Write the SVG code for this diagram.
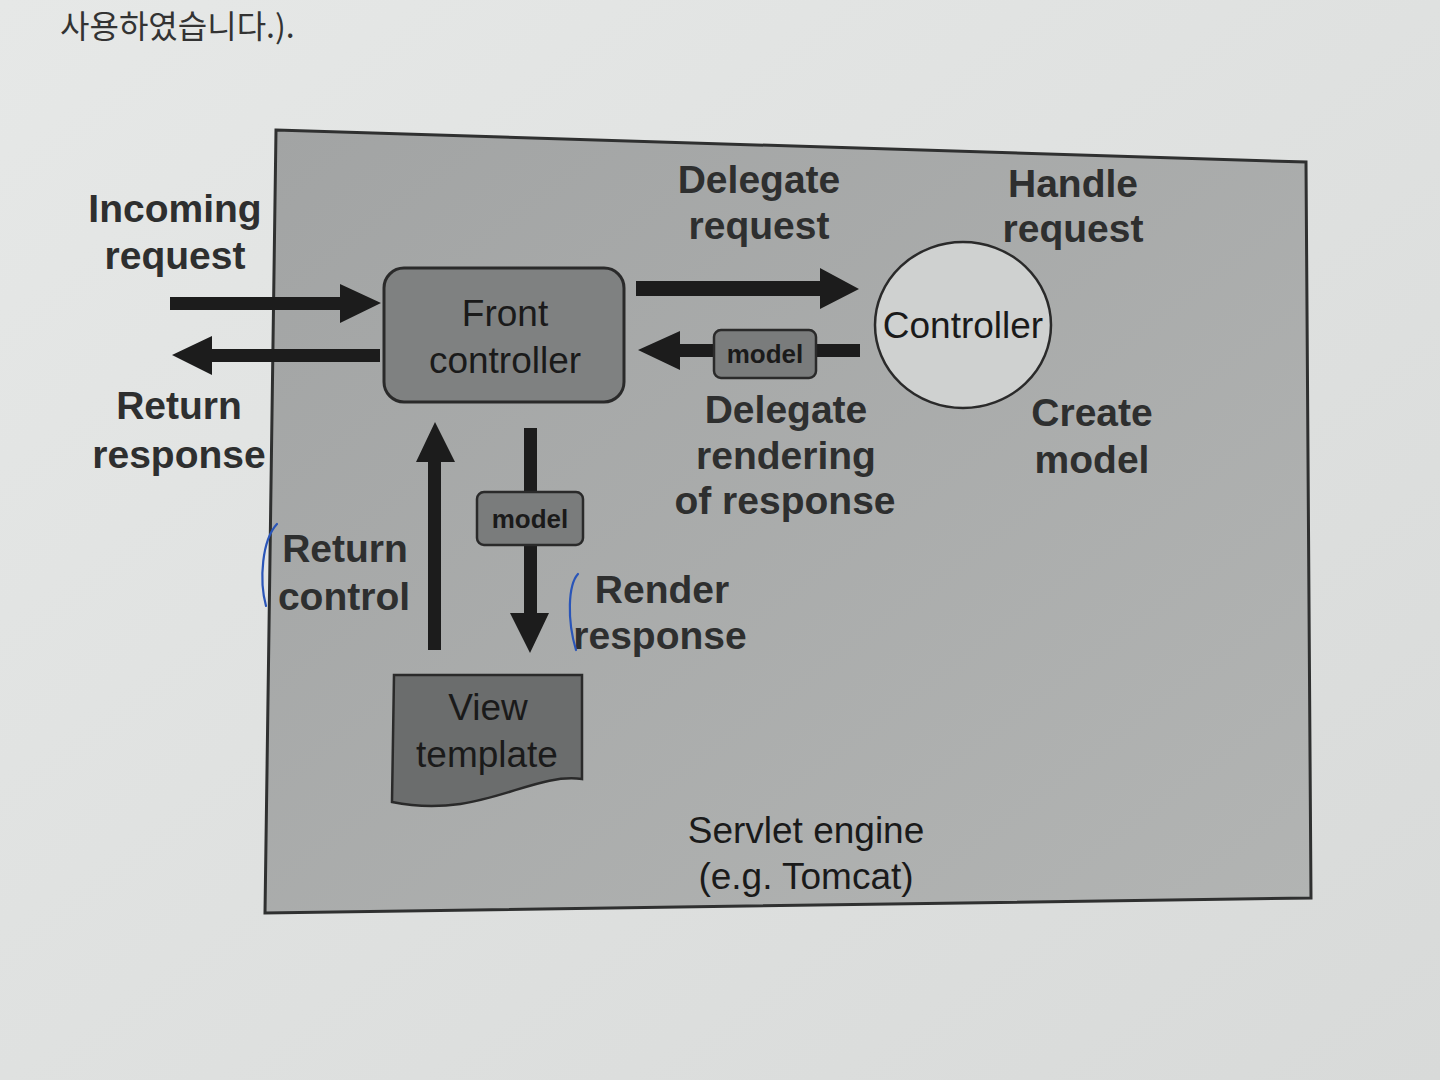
<svg xmlns="http://www.w3.org/2000/svg" width="1440" height="1080" viewBox="0 0 1440 1080">
<defs>
<linearGradient id="page" x1="0" y1="0" x2="1" y2="1">
<stop offset="0" stop-color="#e6e8e7"/>
<stop offset="1" stop-color="#d8dad9"/>
</linearGradient>
<linearGradient id="box" x1="0" y1="0" x2="1" y2="1">
<stop offset="0" stop-color="#a2a4a4"/>
<stop offset="1" stop-color="#b2b4b3"/>
</linearGradient>
<style>
.lbl{font-family:"Liberation Sans",Arial,sans-serif;font-weight:bold;font-size:39px;fill:#2e2f2f;text-anchor:middle}
.nrm{font-family:"Liberation Sans",Arial,sans-serif;font-size:37px;fill:#1a1a1a;text-anchor:middle}
.mdl{font-family:"Liberation Sans",Arial,sans-serif;font-weight:bold;font-size:26px;fill:#1a1a1a;text-anchor:middle}
.arr{fill:#1c1c1c}
.mbox{fill:#7a7c7c;stroke:#2a2a2a;stroke-width:2.5}
.pen{fill:none;stroke:#2a55b8;stroke-width:2.2;stroke-linecap:round}
</style>
</defs>
<rect width="1440" height="1080" fill="url(#page)"/>
<text x="60" y="38" font-family="'Noto Sans CJK KR',sans-serif" font-size="32" fill="#333">사용하였습니다.).</text>
<polygon id="container" points="276,130 1306,162 1311,898 265,913" fill="url(#box)" stroke="#2f3030" stroke-width="3"/>
<g id="connectors">
<polygon class="arr" points="170,297 340,297 340,284 381,303 340,323 340,310 170,310"/>
<polygon class="arr" points="380,349 212,349 212,336 172,355 212,375 212,362 380,362"/>
<polygon class="arr" points="636,281 820,281 820,268 859,289 820,309 820,296 636,296"/>
<polygon class="arr" points="860,344 680,344 680,331 638,350 680,370 680,357 860,357"/>
<polygon class="arr" points="428,650 428,462 416,462 435,422 455,462 441,462 441,650"/>
<polygon class="arr" points="524,428 537,428 537,613 549,613 530,653 510,613 524,613"/>
</g>
<g id="front-controller">
<rect x="384" y="268" width="240" height="134" rx="20" fill="#7f8181" stroke="#2a2a2a" stroke-width="3"/>
<text class="nrm" x="505" y="326">Front</text>
<text class="nrm" x="505" y="373">controller</text>
</g>
<g id="controller">
<ellipse cx="963" cy="325" rx="88" ry="83" fill="#cfd1d0" stroke="#2a2a2a" stroke-width="2.5"/>
<text class="nrm" x="963" y="338" font-size="35">Controller</text>
</g>
<g id="model-1">
<rect class="mbox" x="714" y="330" width="102" height="48" rx="7"/>
<text class="mdl" x="765" y="363">model</text>
</g>
<g id="model-2">
<rect class="mbox" x="477" y="492" width="106" height="53" rx="7"/>
<text class="mdl" x="530" y="528">model</text>
</g>
<g id="view-template">
<path d="M394,675 L582,675 L582,779 C530,772 480,820 392,802 Z" fill="#6b6d6d" stroke="#2a2a2a" stroke-width="2.5"/>
<text class="nrm" x="488" y="720">View</text>
<text class="nrm" x="487" y="767">template</text>
</g>
<g id="labels">
<text class="lbl" x="175" y="222">Incoming</text>
<text class="lbl" x="175" y="269">request</text>
<text class="lbl" x="179" y="419">Return</text>
<text class="lbl" x="179" y="468">response</text>
<text class="lbl" x="759" y="193">Delegate</text>
<text class="lbl" x="759" y="239">request</text>
<text class="lbl" x="1073" y="197">Handle</text>
<text class="lbl" x="1073" y="242">request</text>
<text class="lbl" x="786" y="423">Delegate</text>
<text class="lbl" x="786" y="469">rendering</text>
<text class="lbl" x="785" y="514">of response</text>
<text class="lbl" x="1092" y="426">Create</text>
<text class="lbl" x="1092" y="473">model</text>
<text class="lbl" x="345" y="562">Return</text>
<text class="lbl" x="344" y="610">control</text>
<text class="lbl" x="662" y="603">Render</text>
<text class="lbl" x="660" y="649">response</text>
<text class="nrm" x="806" y="843">Servlet engine</text>
<text class="nrm" x="806" y="889">(e.g. Tomcat)</text>
</g>
<path class="pen" d="M277,524 C262,540 259,580 266,606"/>
<path class="pen" d="M578,574 C568,585 567,620 576,650"/>
</svg>
